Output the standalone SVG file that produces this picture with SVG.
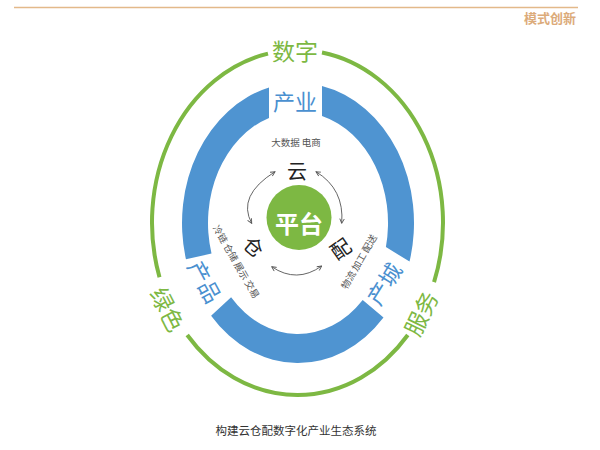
<svg xmlns="http://www.w3.org/2000/svg" width="600" height="450" viewBox="0 0 600 450">
<defs>
<style>
text{font-family:"Noto Sans CJK SC","Noto Sans",sans-serif;}
.c{text-anchor:middle;dominant-baseline:central;}
.blue{fill:#4f94d1;}
.bl{fill:#4a90d0;font-size:22px;}
.gl{fill:#7db843;font-size:23px;}
.gring{fill:none;stroke:#7db843;stroke-width:4;}
.arr{fill:none;stroke:#555;stroke-width:0.9;marker-start:url(#ah);marker-end:url(#ah);}
.sm{fill:#555;font-size:9.5px;}
.big{fill:#222;font-size:20px;}
</style>
<marker id="ah" viewBox="0 0 8 8" refX="7" refY="4" markerWidth="6" markerHeight="6" markerUnits="userSpaceOnUse" orient="auto-start-reverse">
<path d="M1,1 L7,4 L1,7" fill="none" stroke="#555" stroke-width="1.2"/>
</marker>
</defs>
<rect width="600" height="450" fill="#fff"/>
<g id="header">
<line x1="14" y1="7.5" x2="578" y2="7.5" stroke="#e3b98a" stroke-width="1.5"/>
<text x="576" y="23" text-anchor="end" font-size="13" font-weight="700" fill="#dcab7a">模式创新</text>
</g>
<g id="green-ring">
<path class="gring" d="M322,52.5 A145.5 172.5 0 0 1 434.05,282.1"/>
<path class="gring" d="M407.8,335 A145.5 172.5 0 0 1 187.2,335"/>
<path class="gring" d="M159.5,277.2 A145.5 172.5 0 0 1 268,53.6"/>
<text class="c gl" x="295" y="49.5">数字</text>
<text class="c gl" transform="translate(168.5,309) rotate(63)">绿色</text>
<text class="c gl" transform="translate(420,313) rotate(-64)">服务</text>
</g>
<g id="blue-ring">
<path class="blue" d="M322,86 A116 140 0 0 1 409.5,261.6 L385.9,247 A90 111 0 0 0 322,116 Z"/>
<path class="blue" d="M383.5,317.6 A116 140 0 0 1 211.1,315.8 L231.1,297.3 A90 111 0 0 0 362.7,300.1 Z"/>
<path class="blue" d="M185.95,259.2 A116 140 0 0 1 269,87.5 L269,117.9 A90 111 0 0 0 211.5,253.6 Z"/>
<text class="c bl" x="295" y="99.5">产业</text>
<text class="c bl" transform="translate(206,281) rotate(62)">产品</text>
<text class="c bl" transform="translate(383,283) rotate(-58)">产城</text>
</g>
<g id="platform">
<circle cx="299" cy="217.5" r="32.5" fill="#7db843"/>
<text class="c" x="299" y="222" font-size="24" font-weight="700" fill="#fff">平台</text>
</g>
<g id="cloud">
<text class="sm c" x="296" y="141.5" font-size="9">大数据 电商</text>
<text class="big c" x="297" y="170">云</text>
</g>
<g id="warehouse">
<text class="big c" transform="translate(254,246) rotate(40)">仓</text>
<text class="sm c" transform="translate(236.5,261.5) rotate(60)">冷链 仓储 展示 交易</text>
</g>
<g id="distribution">
<text class="big c" transform="translate(340,248) rotate(-35)">配</text>
<text class="sm c" transform="translate(358.5,261.5) rotate(-60)">物流 加工 配送</text>
</g>
<g id="connectors">
<path class="arr" d="M275,171.7 Q236.7,195.8 251.7,223.3"/>
<path class="arr" d="M316,171.7 Q344.5,189.1 341.7,223.3"/>
<path class="arr" d="M271.7,266.7 Q296.7,283.7 321.7,266"/>
</g>
<g id="caption">
<text x="296" y="435" text-anchor="middle" font-size="11.5" fill="#333">构建云仓配数字化产业生态系统</text>
</g>
</svg>
